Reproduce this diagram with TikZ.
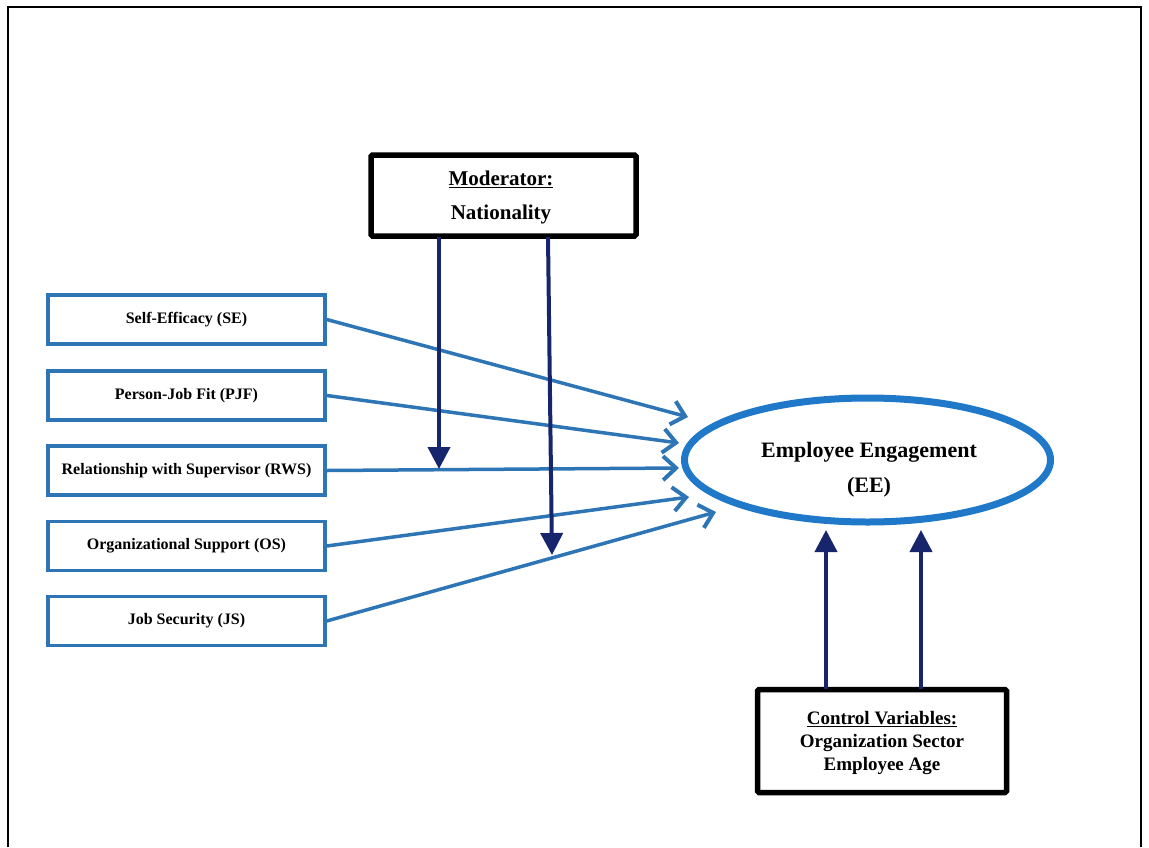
\documentclass[tikz,border=0pt]{standalone}
\usepackage{fontspec}
\setmainfont{Liberation Serif}
\usetikzlibrary{arrows.meta,shapes.geometric}
\definecolor{boxblue}{HTML}{2E75B6}
\definecolor{ellblue}{HTML}{1F78C8}
\definecolor{navy}{HTML}{17266C}
\tikzset{
  varbox/.style={draw=boxblue,line width=3.5pt,minimum width=277pt,minimum height=49pt,inner sep=0pt,font=\fontsize{16}{19}\selectfont\bfseries},
  blackbox/.style={draw=black,line width=5.5pt,rounded corners=1.5pt,inner sep=0pt,align=center},
  blueline/.style={draw=boxblue,line width=3.5pt,-{Straight Barb[length=13pt,width=24pt,line width=4pt]}},
  navyline/.style={draw=navy,line width=4pt,-{Triangle[length=22pt,width=22pt]}},
}
\begin{document}
\begin{tikzpicture}[x=1pt,y=-1pt]
\useasboundingbox (0,0) rectangle (1149,847);
\draw[line width=1.8pt] (8,847) -- (8,7) -- (1141,7) -- (1141,847);

% moderator
\node[blackbox,minimum width=265pt,minimum height=81pt] (mod) at (503.5,195.5) {};
\node[font=\fontsize{21}{24}\selectfont\bfseries] (modt) at (501,179) {\underline{Moderator:}};
\node[font=\fontsize{21}{24}\selectfont\bfseries] (modn) at (501,214) {Nationality};

% variable boxes
\node[varbox] (se) at (186.5,319.5) {Self-Efficacy (SE)};
\node[varbox] (pjf) at (186.5,395.5) {Person-Job Fit (PJF)};
\node[varbox] (rws) at (186.5,470.5) {Relationship with Supervisor (RWS)};
\node[varbox] (os) at (186.5,546) {Organizational Support (OS)};
\node[varbox] (js) at (186.5,621) {Job Security (JS)};

% ellipse
\node[ellipse,draw=ellblue,line width=7pt,minimum width=366pt,minimum height=124pt,inner sep=0pt] (ee) at (867.5,460) {};
\node[font=\fontsize{22}{26}\selectfont\bfseries,align=center] (eet) at (869,470) {Employee Engagement\\[9pt](EE)};

% control
\node[blackbox,minimum width=249pt,minimum height=103pt] (ctl) at (882,741) {};
\node[font=\fontsize{19}{23}\selectfont\bfseries,align=center] (ctlt) at (882,743) {\underline{Control Variables:}\\Organization Sector\\Employee Age};

% coordinates for arrow ends
\coordinate (seE) at (688,417);
\coordinate (pjfE) at (679,443);
\coordinate (rwsE) at (679,468);
\coordinate (osE) at (689,497);
\coordinate (jsE) at (716,512);

\draw[blueline] (se.east) -- (seE);
\draw[blueline] (pjf.east) -- (pjfE);
\draw[blueline] (rws.east) -- (rwsE);
\draw[blueline] (os.east) -- (osE);
\draw[blueline] (js.east) -- (jsE);

% moderator arrows
\coordinate (m1) at (439,237);
\coordinate (m1e) at (439,469);
\coordinate (m2) at (548,237);
\coordinate (m2e) at (552,555);
\draw[navyline] (m1) -- (m1e);
\draw[navyline] (m2) -- (m2e);

% control arrows
\coordinate (c1) at (826,689);
\coordinate (c1e) at (826,530);
\coordinate (c2) at (921,689);
\coordinate (c2e) at (921,530);
\draw[navyline] (c1) -- (c1e);
\draw[navyline] (c2) -- (c2e);
\end{tikzpicture}
\end{document}
